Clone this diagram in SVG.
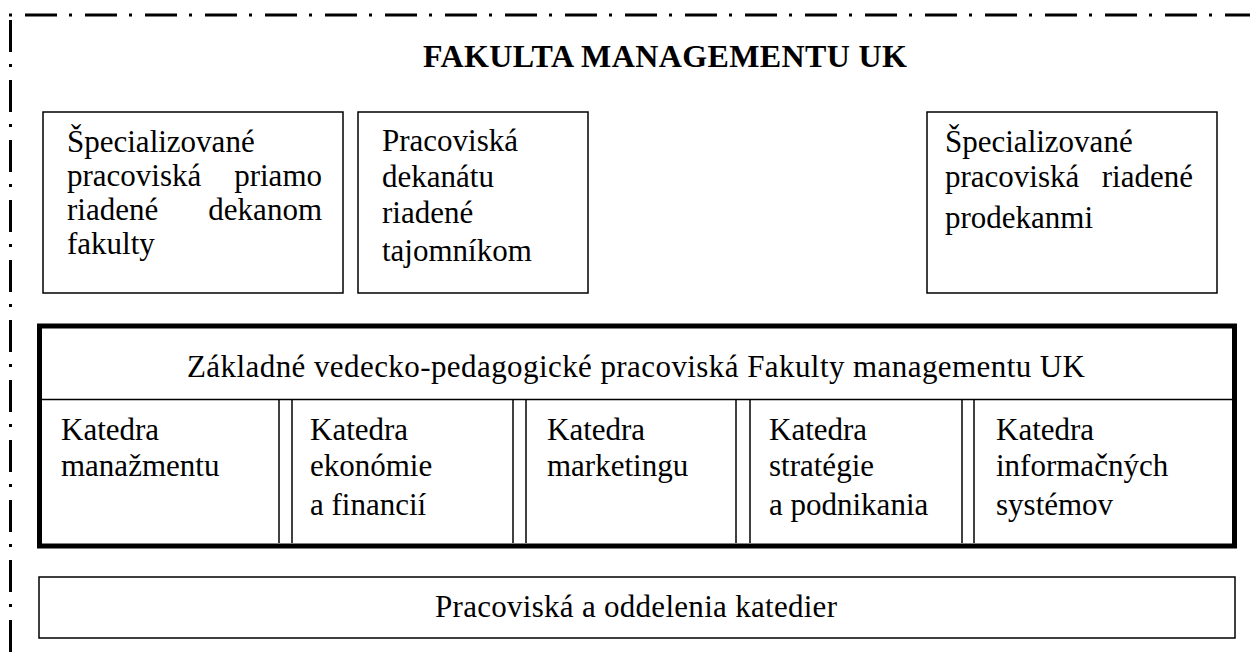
<svg xmlns="http://www.w3.org/2000/svg" width="1250" height="657" viewBox="0 0 1250 657">
<style>
  .t { font-family: "Liberation Serif", "Times New Roman", serif; font-size: 31px; fill: #000; }
  .title { font-family: "Liberation Serif", "Times New Roman", serif; font-size: 32px; font-weight: bold; fill: #000; }
  .box { fill: #fff; stroke: #000; stroke-width: 1.5; }
  .thin { stroke: #000; stroke-width: 1.5; fill: none; }
  .border { stroke: #000; stroke-width: 3; fill: none; stroke-dasharray: 32 12 3 13; }
</style>
<rect x="0" y="0" width="1250" height="657" fill="#fff"/>

<g id="frame">
  <line class="border" x1="0" y1="15" x2="1250" y2="15" stroke-dashoffset="35"/>
  <line class="border" x1="10.5" y1="15" x2="10.5" y2="657" stroke-dashoffset="55"/>
</g>

<g id="title">
  <text class="title" x="423" y="67" textLength="484" lengthAdjust="spacing">FAKULTA MANAGEMENTU UK</text>
</g>

<g id="box-dekan">
  <rect class="box" x="43" y="112" width="300" height="181"/>
  <text class="t" x="67" y="152">Špecializované</text>
  <text class="t" x="67" y="186">pracoviská</text>
  <text class="t" x="322" y="186" text-anchor="end">priamo</text>
  <text class="t" x="67" y="220">riadené</text>
  <text class="t" x="322" y="220" text-anchor="end">dekanom</text>
  <text class="t" x="67" y="254">fakulty</text>
</g>

<g id="box-tajomnik">
  <rect class="box" x="358" y="112" width="230" height="181"/>
  <text class="t" x="382" y="151">Pracoviská</text>
  <text class="t" x="382" y="187">dekanátu</text>
  <text class="t" x="382" y="223">riadené</text>
  <text class="t" x="382" y="261">tajomníkom</text>
</g>

<g id="box-prodekani">
  <rect class="box" x="927" y="112" width="290" height="181"/>
  <text class="t" x="945" y="152">Špecializované</text>
  <text class="t" x="945" y="187">pracoviská</text>
  <text class="t" x="1193" y="187" text-anchor="end">riadené</text>
  <text class="t" x="945" y="228">prodekanmi</text>
</g>

<g id="zakladne">
  <rect x="39.5" y="326" width="1195" height="220" fill="#fff" stroke="#000" stroke-width="5"/>
  <text class="t" x="187" y="377" textLength="898" lengthAdjust="spacing">Základné vedecko-pedagogické pracoviská Fakulty managementu UK</text>
</g>

<g id="connectors">
  <line class="thin" x1="42" y1="399.5" x2="1232" y2="399.5"/>
  <line class="thin" x1="279" y1="400" x2="279" y2="543"/>
  <line class="thin" x1="292" y1="400" x2="292" y2="543"/>
  <line class="thin" x1="513" y1="400" x2="513" y2="543"/>
  <line class="thin" x1="526" y1="400" x2="526" y2="543"/>
  <line class="thin" x1="736" y1="400" x2="736" y2="543"/>
  <line class="thin" x1="750" y1="400" x2="750" y2="543"/>
  <line class="thin" x1="962" y1="400" x2="962" y2="543"/>
  <line class="thin" x1="974" y1="400" x2="974" y2="543"/>
</g>

<g id="katedra-manazmentu">
  <text class="t" x="61" y="440">Katedra</text>
  <text class="t" x="61" y="476">manažmentu</text>
</g>
<g id="katedra-ekonomie">
  <text class="t" x="310" y="440">Katedra</text>
  <text class="t" x="310" y="476">ekonómie</text>
  <text class="t" x="310" y="515">a financií</text>
</g>
<g id="katedra-marketingu">
  <text class="t" x="547" y="440">Katedra</text>
  <text class="t" x="547" y="476">marketingu</text>
</g>
<g id="katedra-strategie">
  <text class="t" x="769" y="440">Katedra</text>
  <text class="t" x="769" y="476">stratégie</text>
  <text class="t" x="769" y="515">a podnikania</text>
</g>
<g id="katedra-is">
  <text class="t" x="996" y="440">Katedra</text>
  <text class="t" x="996" y="476">informačných</text>
  <text class="t" x="996" y="515">systémov</text>
</g>

<g id="pracoviska-katedier">
  <rect class="box" x="39" y="577" width="1196" height="61"/>
  <text class="t" x="435" y="617" textLength="402" lengthAdjust="spacing">Pracoviská a oddelenia katedier</text>
</g>
</svg>
